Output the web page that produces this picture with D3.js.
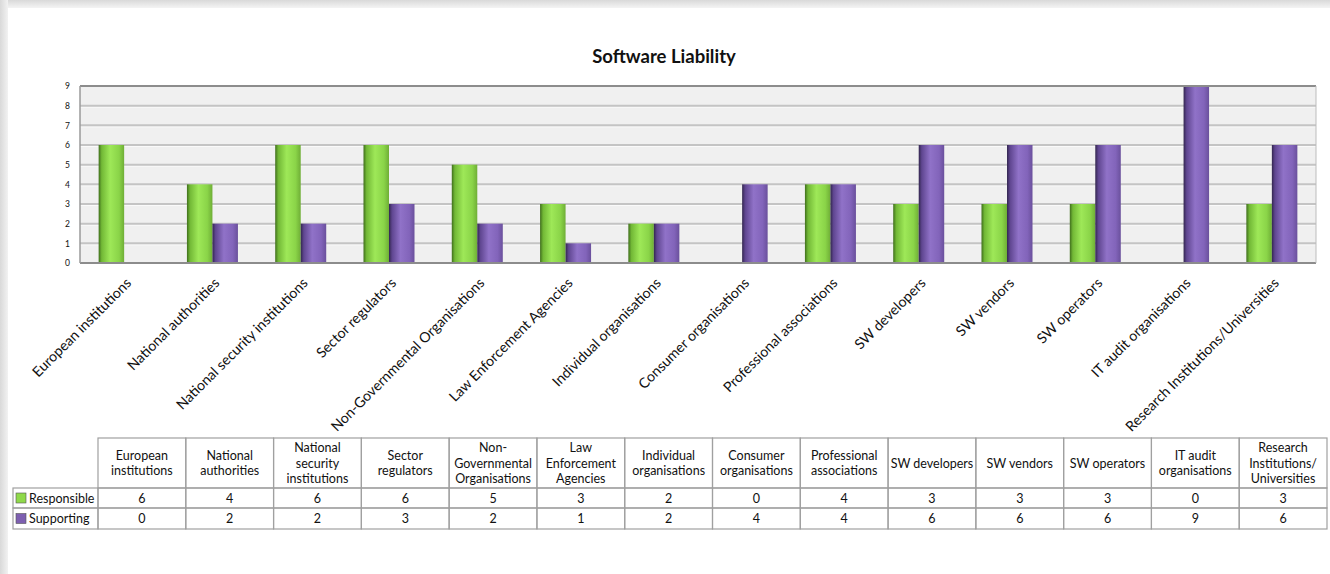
<!DOCTYPE html>
<html>
<head>
<meta charset="utf-8">
<script src="https://cdn.jsdelivr.net/npm/d3@7"></script>
<style>
  html, body { margin: 0; padding: 0; background: #fff; }
  svg { display: block; }
  text { font-family: Lato, "Open Sans", sans-serif; fill: #111; }
</style>
</head>
<body>
<svg id="chart" width="1330" height="574"></svg>
<script>
// ---- data ----
const categories = [
  "European institutions", "National authorities", "National security institutions",
  "Sector regulators", "Non-Governmental Organisations", "Law Enforcement Agencies",
  "Individual organisations", "Consumer organisations", "Professional associations",
  "SW developers", "SW vendors", "SW operators", "IT audit organisations",
  "Research Institutions/Universities"
];
const tableHeaders = [
  ["European", "institutions"], ["National", "authorities"], ["National", "security", "institutions"],
  ["Sector", "regulators"], ["Non-", "Governmental", "Organisations"], ["Law", "Enforcement", "Agencies"],
  ["Individual", "organisations"], ["Consumer", "organisations"], ["Professional", "associations"],
  ["SW developers"], ["SW vendors"], ["SW operators"], ["IT audit", "organisations"],
  ["Research", "Institutions/", "Universities"]
];
const seriesNames = ["Responsible", "Supporting"];
const responsible = [6, 4, 6, 6, 5, 3, 2, 0, 4, 3, 3, 3, 0, 3];
const supporting  = [0, 2, 2, 3, 2, 1, 2, 4, 4, 6, 6, 6, 9, 6];
const yTicks = [0, 1, 2, 3, 4, 5, 6, 7, 8, 9];
const title = "Software Liability";

const seriesValues = [responsible, supporting];
const seriesColors = {
  Responsible: { swatch: "#8fd94a", stops: ["#3f6e1c", "#72b836", "#9ee858", "#8ad448", "#6fae36"] },
  Supporting:  { swatch: "#7d5fb0", stops: ["#33264f", "#5f4690", "#9072c8", "#8264ba", "#6a509c"] }
};

const svg = d3.select("#chart");
const W = 1330, H = 574;

// ---- card with soft shadow ----
const defs = svg.append("defs");
const shTop = defs.append("linearGradient").attr("id", "shTop").attr("x1", 0).attr("y1", 0).attr("x2", 0).attr("y2", 1);
shTop.append("stop").attr("offset", 0).attr("stop-color", "#d9d9d9");
shTop.append("stop").attr("offset", 1).attr("stop-color", "#f4f4f4");
const shLeft = defs.append("linearGradient").attr("id", "shLeft").attr("x1", 0).attr("y1", 0).attr("x2", 1).attr("y2", 0);
shLeft.append("stop").attr("offset", 0).attr("stop-color", "#d9d9d9");
shLeft.append("stop").attr("offset", 1).attr("stop-color", "#f2f2f2");
svg.append("rect").attr("width", W).attr("height", H).attr("fill", "#fff");
svg.append("rect").attr("x", 0).attr("y", 0).attr("width", W).attr("height", 8).attr("fill", "url(#shTop)");
svg.append("rect").attr("x", 0).attr("y", 0).attr("width", 8).attr("height", H).attr("fill", "url(#shLeft)");

// bar gradients (cylinder-like shading)
seriesNames.forEach((s, i) => {
  const g = defs.append("linearGradient").attr("id", "grad" + i)
    .attr("x1", 0).attr("y1", 0).attr("x2", 1).attr("y2", 0);
  const offs = [0, 0.12, 0.45, 0.8, 1];
  seriesColors[s].stops.forEach((c, k) => g.append("stop").attr("offset", offs[k]).attr("stop-color", c));
});

// ---- title ----
svg.append("text")
  .attr("x", 664).attr("y", 63)
  .attr("text-anchor", "middle")
  .style("font-weight", "bold").style("font-size", "18.5px")
  .text(title);

// ---- plot area ----
const plot = { left: 80, right: 1316, top: 86, bottom: 263 };
const x0 = d3.scaleBand().domain(categories).range([plot.left, plot.right]).padding(0);
const barW = 25.5;
const x1 = d3.scaleBand().domain(seriesNames)
  .range([x0.bandwidth() / 2 - barW, x0.bandwidth() / 2 + barW]).padding(0);
const y = d3.scaleLinear().domain([0, 9]).range([plot.bottom, plot.top]);

svg.append("rect")
  .attr("x", plot.left).attr("y", plot.top)
  .attr("width", plot.right - plot.left).attr("height", plot.bottom - plot.top)
  .attr("fill", "#f0f0f0");

// gridlines with a soft highlight underneath
const grid = svg.append("g");
grid.selectAll("line.hl").data(yTicks.slice(1, -1)).join("line")
  .attr("class", "hl")
  .attr("x1", plot.left).attr("x2", plot.right)
  .attr("y1", d => y(d) + 1.5).attr("y2", d => y(d) + 1.5)
  .attr("stroke", "#fafafa").attr("stroke-width", 1);
grid.selectAll("line.gl").data(yTicks.slice(1, -1)).join("line")
  .attr("class", "gl")
  .attr("x1", plot.left).attr("x2", plot.right)
  .attr("y1", d => y(d)).attr("y2", d => y(d))
  .attr("stroke", "#c4c4c4").attr("stroke-width", 2);

// bars
const groups = svg.append("g").selectAll("g")
  .data(categories).join("g")
  .attr("transform", d => `translate(${x0(d)},0)`);
groups.selectAll("rect")
  .data((d, i) => seriesNames.map((s, k) => ({ s, k, v: seriesValues[k][i] })))
  .join("rect")
  .attr("x", d => x1(d.s))
  .attr("width", x1.bandwidth())
  .attr("y", d => y(d.v))
  .attr("height", d => y(0) - y(d.v))
  .attr("fill", d => `url(#grad${d.k})`);

// plot frame
svg.append("line").attr("x1", plot.left).attr("x2", plot.right).attr("y1", plot.top).attr("y2", plot.top)
  .attr("stroke", "#8c8c8c").attr("stroke-width", 2);
svg.append("line").attr("x1", plot.left).attr("x2", plot.right).attr("y1", plot.bottom).attr("y2", plot.bottom)
  .attr("stroke", "#8c8c8c").attr("stroke-width", 2);
svg.append("line").attr("x1", plot.left).attr("x2", plot.left).attr("y1", plot.top).attr("y2", plot.bottom)
  .attr("stroke", "#9a9a9a").attr("stroke-width", 1.5);
svg.append("line").attr("x1", plot.right).attr("x2", plot.right).attr("y1", plot.top).attr("y2", plot.bottom)
  .attr("stroke", "#bdbdbd").attr("stroke-width", 1);

// y axis labels
const yAxis = d3.axisLeft(y).tickValues(yTicks).tickSize(0).tickPadding(10).tickFormat(d3.format("d"));
const yG = svg.append("g").attr("transform", `translate(${plot.left},0)`).call(yAxis);
yG.select(".domain").remove();
yG.selectAll("text").style("font-size", "8.5px").style("font-family", "Lato, 'Open Sans', sans-serif").attr("fill", "#111");

// x axis category labels, rotated
const xAxis = d3.axisBottom(x0).tickSize(0).tickPadding(0);
const xG = svg.append("g").attr("transform", `translate(0,${plot.bottom})`).call(xAxis);
xG.select(".domain").remove();
xG.selectAll(".tick text")
  .attr("x", 0).attr("y", 0).attr("dy", 0)
  .attr("text-anchor", "end")
  .attr("transform", "translate(8,21) rotate(-45)")
  .style("font-size", "14.2px")
  .style("font-family", "Lato, 'Open Sans', sans-serif")
  .attr("fill", "#111");

// ---- data table ----
const tx = d3.scaleBand().domain(categories).range([98, 1327]).padding(0);
const rows = { headTop: 438, headBottom: 488, r1: 508, r2: 529 };
const legendLeft = 13;
const table = svg.append("g");
const border = "#a0a0a0";

// header cells
table.selectAll("rect.hc").data(categories).join("rect")
  .attr("class", "hc")
  .attr("x", d => tx(d)).attr("y", rows.headTop)
  .attr("width", tx.bandwidth()).attr("height", rows.headBottom - rows.headTop)
  .attr("fill", "none").attr("stroke", border).attr("stroke-width", 1.2);
table.selectAll("text.ht").data(categories).join("text")
  .attr("class", "ht")
  .attr("text-anchor", "middle")
  .style("font-size", "12.5px")
  .each(function(d, i) {
    const lines = tableHeaders[i];
    const lh = 15.5;
    const cy = (rows.headTop + rows.headBottom) / 2;
    const y0 = cy - (lines.length - 1) * lh / 2 + 4.5;
    d3.select(this).selectAll("tspan").data(lines).join("tspan")
      .attr("x", tx(d) + tx.bandwidth() / 2)
      .attr("y", (l, k) => y0 + k * lh)
      .text(l => l);
  });

// value rows
const rowTops = [rows.headBottom, rows.r1];
const rowBottoms = [rows.r1, rows.r2];
seriesNames.forEach((s, k) => {
  const top = rowTops[k], bot = rowBottoms[k];
  table.append("rect")
    .attr("x", legendLeft).attr("y", top)
    .attr("width", 98 - legendLeft).attr("height", bot - top)
    .attr("fill", "none").attr("stroke", border).attr("stroke-width", 1.2);
  table.append("rect")
    .attr("x", legendLeft + 3).attr("y", (top + bot) / 2 - 5)
    .attr("width", 10).attr("height", 10)
    .attr("fill", seriesColors[s].swatch).attr("stroke", "#555").attr("stroke-width", 0.6);
  table.append("text")
    .attr("x", legendLeft + 16).attr("y", (top + bot) / 2 + 4.5)
    .style("font-size", "12.5px").text(s);
  table.selectAll("rect.v" + k).data(categories).join("rect")
    .attr("class", "v" + k)
    .attr("x", d => tx(d)).attr("y", top)
    .attr("width", tx.bandwidth()).attr("height", bot - top)
    .attr("fill", "none").attr("stroke", border).attr("stroke-width", 1.2);
  table.selectAll("text.v" + k).data(categories).join("text")
    .attr("class", "v" + k)
    .attr("x", d => tx(d) + tx.bandwidth() / 2).attr("y", (top + bot) / 2 + 4.5)
    .attr("text-anchor", "middle")
    .style("font-size", "12.5px")
    .text((d, i) => seriesValues[k][i]);
});
</script>
</body>
</html>
